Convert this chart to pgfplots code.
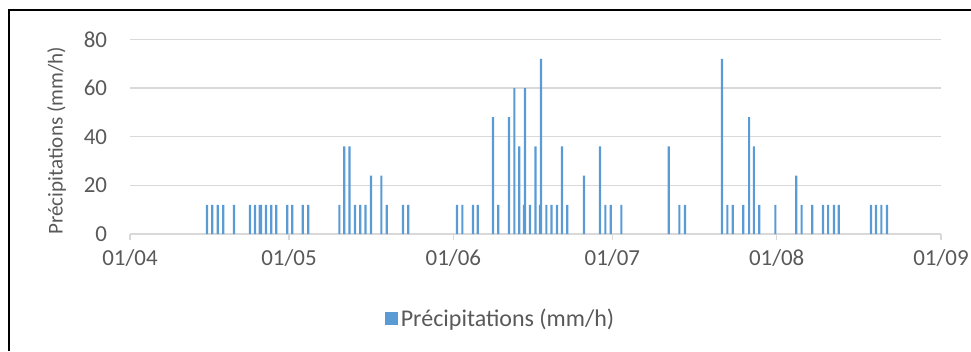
\documentclass[border=0pt]{standalone}
\usepackage{fontspec}
\setmainfont{Carlito}
\usepackage{pgfplots}
\usepackage{pgfplotstable}
\pgfplotsset{compat=1.18}
\definecolor{barblue}{HTML}{5B9BD5}
\definecolor{txtgray}{HTML}{595959}
\definecolor{gridgray}{HTML}{D9D9D9}
\pgfplotstableread{
x y
14.53 12
15.53 12
16.55 12
17.6 12
19.62 12
22.64 12
23.58 12
24.47 12
24.72 12
25.66 12
26.66 12
27.6 12
29.68 12
30.62 12
32.58 12
33.64 12
39.5 12
40.43 36
41.42 36
42.45 12
43.45 12
44.43 12
45.47 24
47.42 24
48.43 12
51.51 12
52.51 12
61.7 12
62.7 12
64.72 12
65.6 12
68.49 48
69.49 12
71.51 48
72.51 60
73.45 36
74.34 12
74.53 60
75.47 12
76.5 36
77.36 12
77.55 72
78.55 12
79.5 12
80.57 12
81.5 36
82.5 12
85.66 24
88.68 36
89.68 12
90.7 12
92.7 12
101.64 36
103.64 12
104.72 12
111.7 72
112.7 12
113.7 12
115.7 12
116.8 48
117.7 36
118.7 12
121.75 12
125.7 24
126.7 12
128.7 12
130.75 12
131.7 12
132.8 12
133.7 12
139.8 12
140.75 12
141.75 12
142.8 12
}\precip
\begin{document}
\begin{tikzpicture}
\useasboundingbox (0,0) rectangle (728.25pt,263.25pt);
\draw[black, line width=1pt] (6.75pt,0) -- (6.75pt,255.75pt) -- (728.25pt,255.75pt);
\begin{axis}[
  at={(97.5pt,87.75pt)}, anchor=south west,
  scale only axis, width=608.25pt, height=146pt,
  xmin=0, xmax=153, ymin=0, ymax=80,
  axis x line*=bottom, axis y line*=left,
  y axis line style={draw=none},
  x axis line style={gridgray, line width=1.1pt},
  ymajorgrids, grid style={gridgray, line width=1.1pt},
  xtick={0,30,61,91,122,153},
  xticklabels={01/04,01/05,01/06,01/07,01/08,01/09},
  ytick={0,20,40,60,80},
  tick align=outside, major tick length=4.5pt,
  xtick style={gridgray, line width=1.1pt},
  ytick style={draw=none},
  /pgf/number format/assume math mode=true,
  tick label style={font=\fontsize{17.2}{20}\selectfont, text=txtgray},
  yticklabel style={anchor=east, inner sep=0pt, xshift=-12.5pt},
  xticklabel style={anchor=north, inner sep=0pt, yshift=-6.75pt},
  ylabel={Précipitations (mm/h)},
  every axis y label/.style={at={(axis description cs:-0.0906,0.478)}, rotate=90, anchor=center, font=\fontsize{15.8}{19}\selectfont, text=txtgray},
  legend style={at={(axis description cs:0.4575,-0.434)}, anchor=center, draw=none, fill=none, font=\fontsize{18}{21}\selectfont, text=txtgray},
  legend image code/.code={\fill[barblue] (-3.75pt,-4.9pt) rectangle (6pt,4.9pt);},
]
\addplot[ybar, bar width=1.65pt, fill=barblue, draw=none] table[x=x, y=y] {\precip};
\addlegendentry{Précipitations (mm/h)}
\end{axis}
\end{tikzpicture}
\end{document}
